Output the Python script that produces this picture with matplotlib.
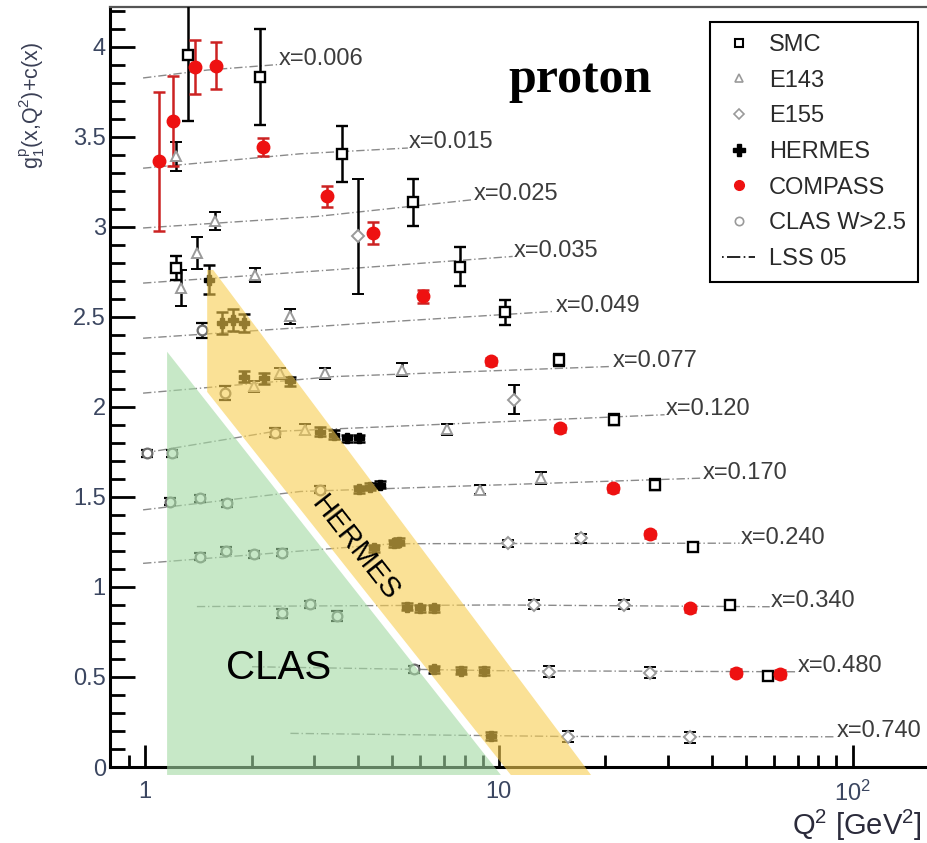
import matplotlib

matplotlib.use("Agg")
import matplotlib.pyplot as plt
from matplotlib.lines import Line2D
from matplotlib.patches import Polygon
from matplotlib.ticker import FixedLocator, MultipleLocator, NullFormatter

plt.rcParams["font.family"] = ["Liberation Sans", "DejaVu Sans"]
plt.rcParams["mathtext.fontset"] = "custom"
plt.rcParams["mathtext.rm"] = "Liberation Sans"
plt.rcParams["mathtext.it"] = "Liberation Sans:italic"
plt.rcParams["mathtext.bf"] = "Liberation Sans:bold"

# ---- data: g1p(x,Q2)+c(x) vs Q2 ----
smc_q2 = [1.326, 2.118, 3.607, 5.716, 1.224, 7.77, 10.4, 14.83, 21.2, 27.66, 35.38, 44.9, 57.7]
smc_g = [3.956, 3.831, 3.403, 3.135, 2.77, 2.779, 2.524, 2.261, 1.928, 1.567, 1.224, 0.900, 0.506]
smc_err = [0.37, 0.265, 0.155, 0.13, 0.065, 0.11, 0.07, 0.035, 0.03, 0.03, 0.02, 0.02, 0.02]

compass_q2 = [1.098, 1.203, 1.386, 1.589, 2.155, 3.27, 4.416, 6.11, 9.49, 14.92, 20.99, 26.83, 34.6, 46.9, 62.2]
compass_g = [3.363, 3.585, 3.885, 3.894, 3.441, 3.168, 2.965, 2.613, 2.252, 1.881, 1.548, 1.293, 0.882, 0.524, 0.517]
compass_err = [0.384, 0.25, 0.15, 0.13, 0.05, 0.06, 0.06, 0.035, 0.02, 0.02, 0.02, 0.02, 0.02, 0.02, 0.02]

e143_q2 = [1.224, 1.579, 1.265, 1.401, 2.05, 2.575, 2.027, 2.401, 2.84, 3.215, 5.336, 7.15, 8.85, 13.15]
e143_g = [3.39, 3.03, 2.66, 2.854, 2.733, 2.502, 2.113, 2.187, 1.872, 2.187, 2.206, 1.876, 1.539, 1.604]
e143_err = [0.08, 0.05, 0.1, 0.09, 0.04, 0.04, 0.03, 0.03, 0.03, 0.03, 0.035, 0.03, 0.025, 0.035]

e155_q2 = [3.995, 11.0, 10.58, 17.07, 12.59, 22.55, 13.89, 26.66, 15.65, 34.6]
e155_g = [2.946, 2.039, 1.243, 1.27, 0.9, 0.9, 0.529, 0.524, 0.168, 0.165]
e155_err = [0.32, 0.08, 0.02, 0.025, 0.025, 0.025, 0.03, 0.03, 0.03, 0.03]

hermes_q2 = [1.512, 1.649, 1.772, 1.908, 1.908, 2.174, 2.563, 3.118, 3.415, 3.727, 4.02, 4.02, 4.32,
             4.61, 4.44, 5.05, 5.22, 5.49, 5.98, 6.56, 6.56, 7.80, 9.09, 9.49]
hermes_g = [2.706, 2.465, 2.483, 2.465, 2.168, 2.159, 2.141, 1.863, 1.844, 1.826, 1.826, 1.543, 1.557,
            1.567, 1.215, 1.243, 1.252, 0.891, 0.882, 0.882, 0.543, 0.535, 0.533, 0.172]
hermes_err = [0.08, 0.06, 0.06, 0.05, 0.03, 0.03, 0.025, 0.025, 0.025, 0.02, 0.02, 0.02, 0.02,
              0.02, 0.02, 0.02, 0.02, 0.02, 0.02, 0.02, 0.02, 0.02, 0.02, 0.02]

clas_q2 = [1.011, 1.19, 1.447, 1.685, 2.335, 1.177, 1.432, 1.704, 3.132, 1.432, 1.696, 2.036, 2.439,
           2.439, 2.921, 3.476, 5.75]
clas_g = [1.743, 1.743, 2.424, 2.076, 1.857, 1.474, 1.493, 1.465, 1.539, 1.168, 1.202, 1.181, 1.19,
          0.854, 0.904, 0.839, 0.543]
clas_err = [0.02, 0.02, 0.04, 0.04, 0.025, 0.02, 0.02, 0.02, 0.02, 0.02, 0.02, 0.02, 0.02,
            0.025, 0.02, 0.03, 0.02]

# LSS 05 curves per x bin (start, middle, end)
lss_bins = ["0.006", "0.015", "0.025", "0.035", "0.049", "0.077", "0.120",
            "0.170", "0.240", "0.340", "0.480", "0.740"]
lss_q2 = [[0.987, 1.5, 2.36], [0.987, 2.75, 5.53], [0.987, 3.06, 8.43], [0.987, 3.415, 10.94],
          [0.987, 4.25, 14.35], [0.987, 3.415, 20.76], [0.987, 2.31, 29.4], [0.987, 2.75, 37.3],
          [0.987, 5.05, 47.9], [1.401, 10.0, 58.3], [2.006, 10.0, 69.4], [2.575, 15.0, 89.1]]
lss_g = [[3.826, 3.87, 3.90], [3.325, 3.405, 3.437], [2.993, 3.057, 3.15], [2.687, 2.761, 2.835],
         [2.381, 2.465, 2.53], [2.076, 2.168, 2.224], [1.743, 1.863, 1.956], [1.428, 1.53, 1.604],
         [1.131, 1.24, 1.243], [0.891, 0.90, 0.89], [0.557, 0.535, 0.529], [0.187, 0.17, 0.168]]

# kinematic coverage bands
clas_band = [(1.154, 2.306), (10.13, -0.044), (1.154, -0.044)]
hermes_band = [(1.498, 2.76), (1.558, 2.76), (18.22, -0.044), (10.81, -0.044), (1.498, 2.083)]


def main() -> None:
    fig = plt.figure(figsize=(9.27, 8.43), dpi=100)
    ax = fig.add_axes([0.1187, 0.0901, 0.88, 0.9016])
    ax.set_xscale("log")
    ax.set_xlim(0.796, 161)
    ax.set_ylim(0, 4.22)

    for q2, g in zip(lss_q2, lss_g):
        ax.plot(q2, g, color="#8a8a8a", lw=1.0, ls=(0, (6, 2, 1, 2)), zorder=2)
    for b, q2, g in zip(lss_bins, lss_q2, lss_g):
        ax.annotate(f"x={b}", (q2[-1], g[-1]), xytext=(1, 4), textcoords="offset points",
                    va="center", ha="left", fontsize=17, color="#3c3c3c", zorder=5)

    eb = dict(capsize=4, elinewidth=1.8, capthick=1.8, ls="none", zorder=3)
    ax.errorbar(e143_q2, e143_g, yerr=e143_err, fmt="^", ms=7, mfc="white", mec="#9a9a9a",
                mew=1.4, ecolor="black", **eb)
    ax.errorbar(e155_q2, e155_g, yerr=e155_err, fmt="D", ms=6, mfc="white", mec="#9a9a9a",
                mew=1.4, ecolor="black", **eb)
    ax.errorbar(clas_q2, clas_g, yerr=clas_err, fmt="o", ms=7, mfc="white", mec="#6e6e6e",
                mew=1.6, ecolor="black", **eb)
    ax.errorbar(hermes_q2, hermes_g, yerr=hermes_err, fmt="P", ms=7, mfc="black", mec="black",
                ecolor="black", **eb)
    ax.errorbar(smc_q2, smc_g, yerr=smc_err, fmt="s", ms=7, mfc="white", mec="black",
                mew=1.7, ecolor="black", **eb)
    ax.errorbar(compass_q2, compass_g, yerr=compass_err, fmt="o", ms=9, mfc="#ee1111",
                mec="#ee1111", ecolor="#cc2222", **eb)

    ax.add_patch(Polygon(clas_band, closed=True, fc="#a3d9a3", ec="none", alpha=0.6,
                         zorder=4, clip_on=False))
    ax.add_patch(Polygon(hermes_band, closed=True, fc="#f7cd50", ec="none", alpha=0.6,
                         zorder=4, clip_on=False))
    ax.text(3.93, 1.217, "HERMES", rotation=-52, rotation_mode="anchor", fontsize=21,
            ha="center", va="center", color="black", zorder=5)
    ax.text(2.38, 0.55, "CLAS", fontsize=29, ha="center", va="center", color="black", zorder=5)

    # axes styling
    ax.xaxis.set_major_locator(FixedLocator([1, 10, 100]))
    ax.set_xticklabels(["1", "10", r"10$^{2}$"])
    ax.xaxis.set_minor_locator(FixedLocator([0.9, 2, 3, 4, 5, 6, 7, 8, 9,
                                             20, 30, 40, 50, 60, 70, 80, 90]))
    ax.xaxis.set_minor_formatter(NullFormatter())
    yt = [0, 0.5, 1, 1.5, 2, 2.5, 3, 3.5, 4]
    ax.yaxis.set_major_locator(FixedLocator(yt))
    ax.set_yticklabels([f"{v:g}" for v in yt])
    ax.yaxis.set_minor_locator(MultipleLocator(0.1))
    ax.tick_params(axis="y", which="major", direction="in", length=18, width=2, pad=3,
                   labelsize=17, labelcolor="#3b4660")
    ax.tick_params(axis="y", which="minor", direction="in", length=11, width=2)
    ax.tick_params(axis="x", which="major", direction="in", length=16, width=2, pad=10,
                   labelsize=17, labelcolor="#3b4660")
    ax.tick_params(axis="x", which="minor", direction="in", length=8.5, width=2)
    for s in ("left", "bottom"):
        ax.spines[s].set_linewidth(2.2)
    ax.spines["top"].set_linewidth(1.6)
    ax.spines["top"].set_color("#555555")
    ax.spines["right"].set_visible(False)

    fig.text(32 / 927, 1 - 105 / 843, r"g$_{1}^{\mathrm{p}}$(x,Q$^{2}$)+c(x)", rotation=90,
             ha="center", va="center", fontsize=15.5, color="#3a3f55")
    fig.text(922 / 927, 1 - 825 / 843, r"Q$^{2}$ [GeV$^{2}$]", ha="right", va="center",
             fontsize=21, color="#2b2b3b")
    fig.text(580 / 927, 1 - 80 / 843, "proton", ha="center", va="center", fontsize=36,
             fontweight="bold", family=["Liberation Serif", "DejaVu Serif"])

    handles = [
        Line2D([], [], ls="none", marker="s", ms=6, mfc="white", mec="black", mew=1.5),
        Line2D([], [], ls="none", marker="^", ms=6, mfc="white", mec="#9a9a9a", mew=1.2),
        Line2D([], [], ls="none", marker="D", ms=5, mfc="white", mec="#9a9a9a", mew=1.2),
        Line2D([], [], ls="none", marker="P", ms=8, mfc="black", mec="black"),
        Line2D([], [], ls="none", marker="o", ms=7, mfc="#ee1111", mec="#ee1111"),
        Line2D([], [], ls="none", marker="o", ms=6, mfc="white", mec="#9a9a9a", mew=1.2),
        Line2D([], [], color="black", lw=1.2, ls=(0, (1, 2, 8, 2))),
    ]
    labels = ["SMC", "E143", "E155", "HERMES", "COMPASS", "CLAS W>2.5", "LSS 05"]
    leg = ax.legend(handles, labels, loc="upper right", bbox_to_anchor=(918 / 927, 1 - 22 / 843),
                    bbox_transform=fig.transFigure, fontsize=17, labelspacing=0.58,
                    handlelength=1.4, handletextpad=0.6, borderpad=0.5, borderaxespad=0,
                    frameon=True, fancybox=False, edgecolor="black", framealpha=1)
    leg.get_frame().set_linewidth(1.5)
    leg.set_zorder(6)
    for t in leg.get_texts():
        t.set_color("#2a2a2a")

    fig.savefig("out.png", dpi=100)
    plt.close(fig)


if __name__ == "__main__":
    main()
